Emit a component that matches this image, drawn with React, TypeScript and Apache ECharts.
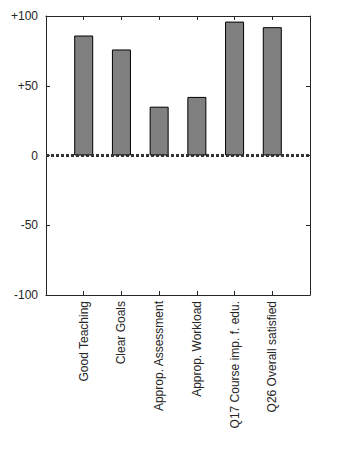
import React, { useEffect, useRef } from "react";
import * as echarts from "echarts";

const categories = [
  "Good Teaching",
  "Clear Goals",
  "Approp. Assessment",
  "Approp. Workload",
  "Q17 Course imp. f. edu.",
  "Q26 Overall satisfied",
];
const values = [86, 76, 35, 42, 96, 92];
const yTicks = [-100, -50, 0, 50, 100];

export default function App() {
  const ref = useRef<HTMLDivElement>(null);
  useEffect(() => {
    const chart = echarts.init(ref.current!, null, { renderer: "svg" });
    const font = { fontFamily: "Liberation Sans, Arial, sans-serif", fontSize: 12, color: "#262626" };
    const axisLine = { show: true, onZero: false, lineStyle: { color: "#262626", width: 1 } };
    const tick = { show: true, inside: true, length: 4, lineStyle: { color: "#262626" } };
    chart.setOption({
      animation: false,
      grid: { left: 46, top: 16, width: 264, height: 279 },
      xAxis: [
        {
          type: "value",
          min: 0,
          max: categories.length + 1,
          interval: 1,
          position: "bottom",
          axisLine,
          axisTick: tick,
          splitLine: { show: false },
          axisLabel: {
            ...font,
            rotate: 90,
            margin: 6,
            formatter: (v: number) => categories[v - 1] ?? "",
          },
        },
        {
          type: "value",
          min: 0,
          max: categories.length + 1,
          interval: 1,
          position: "top",
          axisLine,
          axisTick: tick,
          splitLine: { show: false },
          axisLabel: { show: false },
        },
      ],
      yAxis: [
        {
          type: "value",
          min: yTicks[0],
          max: yTicks[yTicks.length - 1],
          interval: 50,
          position: "left",
          axisLine,
          axisTick: tick,
          splitLine: { show: false },
          axisLabel: {
            ...font,
            margin: 8,
            formatter: (v: number) => (v > 0 ? "+" + v : String(v)),
          },
        },
        {
          type: "value",
          min: yTicks[0],
          max: yTicks[yTicks.length - 1],
          interval: 50,
          position: "right",
          axisLine,
          axisTick: tick,
          splitLine: { show: false },
          axisLabel: { show: false },
        },
      ],
      series: [
        {
          type: "bar",
          xAxisIndex: 0,
          yAxisIndex: 0,
          barWidth: 19,
          data: values.map((v, i) => [i + 1, v]),
          itemStyle: { color: "#808080", borderColor: "#000", borderWidth: 1 },
          z: 2,
          markLine: {
            silent: true,
            symbol: "none",
            label: { show: false },
            lineStyle: { color: "#333", width: 3, type: [3, 2] },
            data: [{ yAxis: 0 }],
            z: 5,
          },
        },
      ],
    });
    return () => chart.dispose();
  }, []);
  return <div ref={ref} style={{ width: 354, height: 472, margin: -8 }} />;
}
